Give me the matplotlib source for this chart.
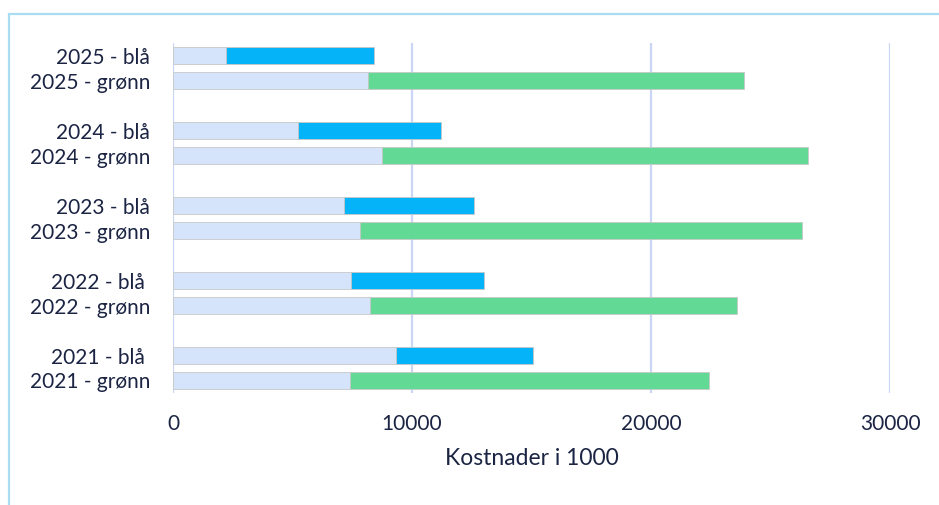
import matplotlib
matplotlib.use("Agg")
import matplotlib.pyplot as plt
from matplotlib.patches import Rectangle

plt.rcParams['font.family'] = ['Lato', 'DejaVu Sans']

# Categories top-to-bottom (blank strings are spacer rows)
labels = ["2025 - blå", "2025 - grønn", "",
          "2024 - blå", "2024 - grønn", "",
          "2023 - blå", "2023 - grønn", "",
          "2022 - blå ", "2022 - grønn", "",
          "2021 - blå ", "2021 - grønn"]
# light base segment (start value)
base = [2200, 8150, None,
        5250, 8760, None,
        7140, 7810, None,
        7460, 8260, None,
        9340, 7420]
# end value of coloured segment
total = [8420, 23900, None,
         11210, 26580, None,
         12610, 26300, None,
         13030, 23580, None,
         15080, 22410]
kind = ["blå", "grønn", None] * 4 + ["blå", "grønn"]

xticks = [0, 10000, 20000, 30000]
xlabel = "Kostnader i 1000"

colors = {"blå": "#05B3F8", "grønn": "#62DA96"}
base_color = "#D6E4FB"
edge = "#C8C8C8"
text_color = "#1B2443"

fig = plt.figure(figsize=(9.39, 5.05), dpi=100)
ax = fig.add_axes([173/939, 1-393/505, (890-173)/939, (393-43)/505])

n = len(labels)
ys = list(range(n))
for y, b, t, k in zip(ys, base, total, kind):
    if b is None:
        continue
    ax.barh(y, b, left=0, height=0.7, color=base_color, edgecolor=edge, linewidth=0.6, zorder=3)
    ax.barh(y, t - b, left=b, height=0.7, color=colors[k], edgecolor=edge, linewidth=0.6, zorder=3)

ax.set_ylim(n - 0.5, -0.5)
ax.set_xlim(0, 30000)
ax.set_yticks(ys)
ax.set_yticklabels(labels, fontsize=15, color=text_color)
ax.set_xticks(xticks)
ax.set_xticklabels([str(v) for v in xticks], fontsize=15, color=text_color)
ax.tick_params(axis='both', length=0)
ax.tick_params(axis='y', pad=16.5)
ax.tick_params(axis='x', pad=15)
ax.set_xlabel(xlabel, fontsize=16.5, color=text_color, labelpad=10)
for s in ax.spines.values():
    s.set_visible(False)
ax.xaxis.grid(True, color="#C9D6F5", linewidth=1.6, zorder=0)
ax.set_axisbelow(True)

# outer frame (cropped on right and bottom)
fig.patches.append(Rectangle((9/939, -0.1), 1.2, 1 - 14/505 + 0.1, transform=fig.transFigure,
                             fill=False, edgecolor="#A8DDF3", linewidth=1.6))

fig.savefig("out.png", dpi=100)
